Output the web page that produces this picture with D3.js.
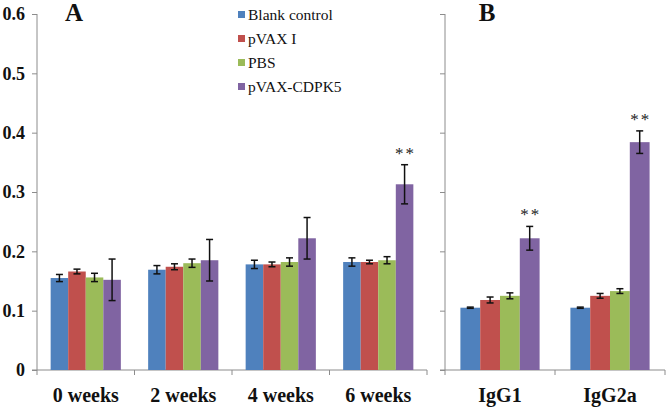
<!DOCTYPE html>
<html><head><meta charset="utf-8">
<script src="https://cdn.jsdelivr.net/npm/d3@7"></script>
<style>body{margin:0;background:#fff}svg{display:block}</style>
</head><body>
<svg id="c" width="666" height="408"></svg>
<script>
const series = ["Blank control", "pVAX I", "PBS", "pVAX-CDPK5"];
const colors = ["#4F81BD", "#C0504D", "#9BBB59", "#8064A2"];
const catsA = ["0 weeks", "2 weeks", "4 weeks", "6 weeks"];
const valsA = [
  [0.155, 0.169, 0.178, 0.182],
  [0.166, 0.174, 0.178, 0.182],
  [0.156, 0.180, 0.182, 0.185],
  [0.152, 0.185, 0.222, 0.313]
];
const errA = [
  [0.006, 0.007, 0.007, 0.007],
  [0.004, 0.005, 0.004, 0.003],
  [0.007, 0.007, 0.007, 0.006],
  [0.035, 0.035, 0.035, 0.033]
];
const sigA = ["", "", "", "**"];
const catsB = ["IgG1", "IgG2a"];
const valsB = [
  [0.105, 0.105],
  [0.118, 0.125],
  [0.125, 0.133],
  [0.222, 0.384]
];
const errB = [
  [0.001, 0.001],
  [0.005, 0.004],
  [0.005, 0.004],
  [0.020, 0.019]
];
const sigB = ["**", "**"];
const yTicks = [0, 0.1, 0.2, 0.3, 0.4, 0.5, 0.6];

const svg = d3.select("#c");
const serif = "'Liberation Serif','Times New Roman',serif";
const axisColor = "#8c8c8c";
const y = d3.scaleLinear().domain([0, 0.6]).range([370, 14]);

function panel(cats, vals, errs, sigs, x0, x1, label, labelX, showLabels) {
  const x = d3.scaleBand().domain(cats).range([x0, x1]).padding(0);
  const bw = x.bandwidth();
  const xs = d3.scaleBand().domain(series).range([bw * 0.14, bw * 0.86]).padding(0);
  const g = svg.append("g");
  // y axis
  const ya = d3.axisLeft(y).tickValues(yTicks).tickSize(5)
    .tickFormat(showLabels ? (d => d === 0 ? "0" : d3.format(".1f")(d)) : () => "");
  const yg = g.append("g").attr("transform", `translate(${x0},0)`).call(ya);
  yg.select(".domain").attr("stroke", axisColor).attr("d", `M0,${y(0.6)}V${y(0)}`);
  yg.selectAll(".tick line").attr("stroke", axisColor);
  yg.selectAll(".tick text").attr("font-family", serif).attr("font-weight", "bold")
    .attr("font-size", 18).attr("fill", "#111").attr("x", -12);
  // x axis
  const xg = g.append("g");
  xg.append("line").attr("x1", x0 - 5).attr("x2", x1).attr("y1", y(0)).attr("y2", y(0))
    .attr("stroke", axisColor);
  const bounds = cats.map(c => x(c)).concat([x1]);
  xg.selectAll("line.t").data(bounds).join("line").attr("class", "t")
    .attr("x1", d => d).attr("x2", d => d).attr("y1", y(0)).attr("y2", y(0) + 5)
    .attr("stroke", axisColor);
  xg.selectAll("text").data(cats).join("text")
    .attr("x", d => x(d) + bw / 2).attr("y", 402).attr("text-anchor", "middle")
    .attr("font-family", serif).attr("font-weight", "bold").attr("font-size", 20)
    .attr("fill", "#111").text(d => d);
  // bars
  series.forEach((s, si) => {
    const sg = g.append("g");
    sg.selectAll("rect").data(cats).join("rect")
      .attr("x", c => x(c) + xs(s)).attr("width", xs.bandwidth())
      .attr("y", (c, i) => y(vals[si][i])).attr("height", (c, i) => y(0) - y(vals[si][i]))
      .attr("fill", colors[si]);
    const eg = sg.selectAll("g.e").data(cats).join("g").attr("class", "e");
    eg.each(function (c, i) {
      const cx = x(c) + xs(s) + xs.bandwidth() / 2;
      const t = y(vals[si][i] + errs[si][i]), b = y(vals[si][i] - errs[si][i]);
      const e = d3.select(this);
      e.append("line").attr("x1", cx).attr("x2", cx).attr("y1", t).attr("y2", b);
      e.append("line").attr("x1", cx - 3.5).attr("x2", cx + 3.5).attr("y1", t).attr("y2", t);
      e.append("line").attr("x1", cx - 3.5).attr("x2", cx + 3.5).attr("y1", b).attr("y2", b);
      e.selectAll("line").attr("stroke", "#111").attr("stroke-width", 1.5);
    });
  });
  // significance
  g.selectAll("text.sig").data(cats).join("text").attr("class", "sig")
    .attr("x", c => x(c) + xs(series[3]) + xs.bandwidth() / 2 + 1)
    .attr("y", (c, i) => y(vals[3][i] + errs[3][i]) - 6)
    .attr("text-anchor", "middle").attr("font-family", serif).attr("font-size", 17)
    .attr("letter-spacing", 2)
    .attr("fill", "#222").text((c, i) => sigs[i]);
  // panel label
  svg.append("text").attr("x", labelX).attr("y", 21).attr("text-anchor", "middle")
    .attr("font-family", serif).attr("font-weight", "bold").attr("font-size", 25)
    .attr("fill", "#111").text(label);
}

panel(catsA, valsA, errA, sigA, 37, 427, "A", 74, true);
panel(catsB, valsB, errB, sigB, 445, 665, "B", 487, false);

// legend
const lg = svg.append("g");
series.forEach((s, i) => {
  const yy = 15 + i * 24;
  lg.append("rect").attr("x", 238).attr("y", yy - 4).attr("width", 7).attr("height", 7).attr("fill", colors[i]);
  lg.append("text").attr("x", 248).attr("y", yy + 5).attr("font-family", serif)
    .attr("font-size", 15.5).attr("fill", "#111").text(s);
});
</script>
</body></html>
